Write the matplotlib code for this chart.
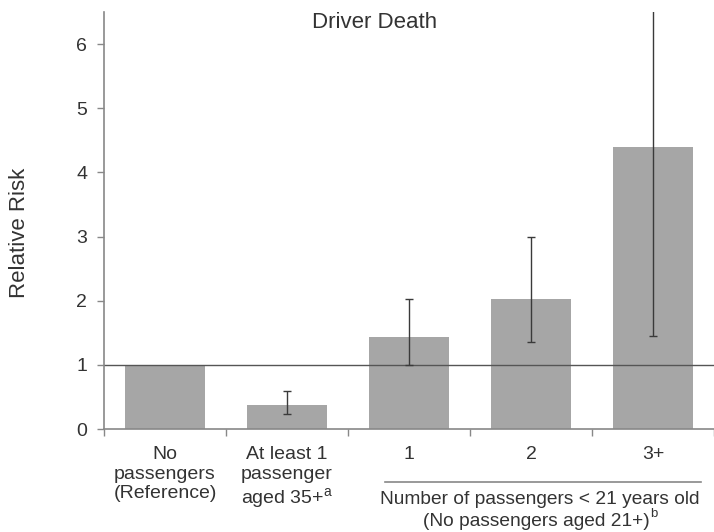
import matplotlib
matplotlib.use("Agg")
import matplotlib.pyplot as plt
import numpy as np

plt.rcParams['font.family'] = ['Liberation Sans', 'DejaVu Sans']
plt.rcParams['mathtext.fontset'] = 'custom'
plt.rcParams['mathtext.rm'] = 'Liberation Sans'
plt.rcParams['mathtext.it'] = 'Liberation Sans'

categories = ["No\npassengers\n(Reference)", "At least 1\npassenger\naged 35+$^{\\mathrm{a}}$", "1", "2", "3+"]
risk = [1.0, 0.38, 1.43, 2.02, 4.40]
ci_low = [np.nan, 0.23, 1.00, 1.35, 1.45]
ci_high = [np.nan, 0.59, 2.03, 2.99, 7.50]
yticks = [0, 1, 2, 3, 4, 5, 6]
title = "Driver Death"
ylabel = "Relative Risk"
group_line1 = "Number of passengers < 21 years old"
group_line2 = "(No passengers aged 21+)"
group_sup = "b"

text_c = "#333333"
fig = plt.figure(figsize=(7.14, 5.32), dpi=100)
ax = fig.add_axes([104/714, 1-429/532, 610/714, 417/532])

x = np.arange(len(categories))
ax.bar(x, risk, width=0.66, color="#a6a6a6", zorder=1)
r = np.array(risk); lo = np.array(ci_low); hi = np.array(ci_high)
m = ~np.isnan(lo)
ax.errorbar(x[m], r[m], yerr=[r[m]-lo[m], hi[m]-r[m]], fmt='none', ecolor="#3a3a3a",
            elinewidth=1, capsize=3, capthick=1, zorder=3)
ax.axhline(1, color="#555555", lw=1, zorder=2)

ax.set_xlim(-0.5, len(categories)-0.5)
ax.set_ylim(0, 6.5)
ax.set_yticks(yticks)
ax.set_yticklabels([str(t) for t in yticks], fontsize=14, color=text_c)
ax.tick_params(axis='y', direction='out', length=5, width=1, color="#888888", pad=7)

ax.set_xticks(x)
ax.set_xticklabels(categories, fontsize=14, color=text_c, linespacing=1.22, va='top')
ax.tick_params(axis='x', which='major', length=0, pad=12)
ax.set_xticks(np.arange(len(categories)+1)-0.5, minor=True)
ax.tick_params(axis='x', which='minor', direction='out', length=5, width=1, color="#888888")

for s in ['top', 'right']:
    ax.spines[s].set_visible(False)
for s in ['left', 'bottom']:
    ax.spines[s].set_color("#888888")
    ax.spines[s].set_linewidth(1.2)

ax.text(0.443, 0.962, title, transform=ax.transAxes, ha='center', va='baseline', fontsize=16, color=text_c)
fig.text(20/714, 1-233/532, ylabel, rotation=90, ha='center', va='center', fontsize=16, color=text_c)

trans = matplotlib.transforms.blended_transform_factory(ax.transData, ax.transAxes)
ax.plot([1.80, 4.39], [-0.127, -0.127], transform=trans, color="#888888", lw=1.2, clip_on=False)
ax.text(3.07, -0.1799, group_line1, transform=trans, ha='center', va='baseline', fontsize=13.8, color=text_c)
t2 = ax.text(3.04, -0.2326, group_line2, transform=trans, ha='center', va='baseline', fontsize=13.8, color=text_c)
fig.canvas.draw()
bb = t2.get_window_extent()
fig.text(bb.x1/fig.dpi/7.14 + 0.001, 1-517/532, group_sup, ha='left', va='baseline', fontsize=9.5, color=text_c)

fig.savefig("out.png", dpi=100)
